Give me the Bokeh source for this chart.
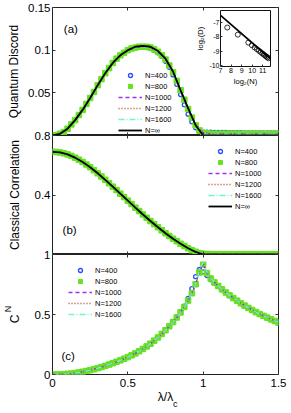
from math import pi
from bokeh.plotting import figure
from bokeh.layouts import column
from bokeh.models import Range1d, FixedTicker, LinearAxis, Label, CustomJSTickFormatter
from bokeh.embed import file_html
from bokeh.resources import INLINE

# ---------------- data ----------------
lam_fine = [0.0, 0.025, 0.05, 0.075, 0.1, 0.125, 0.15, 0.175, 0.2, 0.225,
            0.25, 0.275, 0.3, 0.325, 0.35, 0.375, 0.4, 0.425, 0.45, 0.475,
            0.5, 0.525, 0.55, 0.575, 0.6, 0.625, 0.65, 0.675, 0.7, 0.725,
            0.75, 0.775, 0.8, 0.825, 0.85, 0.875, 0.9, 0.925, 0.95, 0.975,
            1.0, 1.025, 1.05, 1.075, 1.1, 1.125, 1.15, 1.175, 1.2, 1.225,
            1.25, 1.275, 1.3, 1.325, 1.35, 1.375, 1.4, 1.425, 1.45, 1.475,
            1.5]
lam_coarse = [0.0, 0.05, 0.1, 0.15, 0.2, 0.25, 0.3, 0.35, 0.4, 0.45,
              0.5, 0.55, 0.6, 0.65, 0.7, 0.75, 0.8, 0.85, 0.9, 0.95,
              1.0, 1.05, 1.1, 1.15, 1.2, 1.25, 1.3, 1.35, 1.4, 1.45,
              1.5]

# (a) quantum discord
qd_400 = [0.000, 0.0005, 0.002, 0.004, 0.008, 0.013, 0.018, 0.024, 0.030, 0.037,
          0.044, 0.051, 0.059, 0.066, 0.073, 0.079, 0.085, 0.090, 0.094, 0.097,
          0.100, 0.102, 0.103, 0.104, 0.104, 0.103, 0.102, 0.100, 0.097, 0.093,
          0.087, 0.080, 0.071, 0.060, 0.048, 0.036, 0.025, 0.016, 0.009, 0.005,
          0.004, 0.004, 0.004, 0.0035, 0.0035, 0.0035, 0.0035, 0.0033, 0.0033, 0.0033,
          0.0033, 0.003, 0.003, 0.003, 0.003, 0.003, 0.003, 0.003, 0.003, 0.003,
          0.003]
qd_800 = [0.000, 0.0005, 0.002, 0.004, 0.008, 0.013, 0.018, 0.024, 0.030, 0.037,
          0.044, 0.051, 0.059, 0.066, 0.073, 0.079, 0.085, 0.090, 0.094, 0.097,
          0.100, 0.102, 0.103, 0.104, 0.104, 0.104, 0.103, 0.101, 0.098, 0.094,
          0.089, 0.082, 0.074, 0.064, 0.053, 0.042, 0.031, 0.021, 0.012, 0.006,
          0.003, 0.0025, 0.002, 0.002, 0.002, 0.002, 0.002, 0.002, 0.002, 0.002,
          0.002, 0.002, 0.002, 0.002, 0.002, 0.002, 0.002, 0.002, 0.002, 0.002,
          0.002]
qd_1000 = [0.000, 0.002, 0.008, 0.018, 0.030, 0.044, 0.059, 0.073, 0.085, 0.094,
           0.100, 0.103, 0.104, 0.103, 0.098, 0.089, 0.074, 0.053, 0.032, 0.013,
           0.003, 0.002, 0.002, 0.002, 0.002, 0.002, 0.002, 0.002, 0.002, 0.002,
           0.002]
qd_1200 = [0.000, 0.002, 0.008, 0.018, 0.030, 0.044, 0.059, 0.073, 0.085, 0.094,
           0.100, 0.103, 0.104, 0.103, 0.098, 0.089, 0.074, 0.053, 0.032, 0.013,
           0.0025, 0.0018, 0.0018, 0.0018, 0.0018, 0.0018, 0.0018, 0.0018, 0.0018, 0.0018,
           0.0018]
qd_1600 = [0.000, 0.002, 0.008, 0.018, 0.030, 0.044, 0.059, 0.073, 0.085, 0.094,
           0.100, 0.103, 0.104, 0.103, 0.098, 0.089, 0.074, 0.053, 0.032, 0.012,
           0.002, 0.0015, 0.0015, 0.0015, 0.0015, 0.0015, 0.0015, 0.0015, 0.0015, 0.0015,
           0.0015]
qd_inf = [0.000, 0.002, 0.008, 0.018, 0.030, 0.044, 0.059, 0.073, 0.085, 0.094,
          0.100, 0.104, 0.105, 0.104, 0.099, 0.090, 0.075, 0.053, 0.032, 0.012,
          0.000, 0.000, 0.000, 0.000, 0.000, 0.000, 0.000, 0.000, 0.000, 0.000,
          0.000]

# (b) classical correlation
cc_400 = [0.690, 0.689, 0.686, 0.680, 0.673, 0.663, 0.651, 0.637, 0.622, 0.605,
          0.587, 0.567, 0.546, 0.524, 0.502, 0.479, 0.456, 0.433, 0.409, 0.386,
          0.362, 0.339, 0.315, 0.292, 0.269, 0.247, 0.225, 0.204, 0.183, 0.163,
          0.143, 0.124, 0.106, 0.089, 0.072, 0.057, 0.044, 0.031, 0.021, 0.013,
          0.008, 0.006, 0.005, 0.0045, 0.004, 0.004, 0.0038, 0.0036, 0.0035, 0.0034,
          0.0033, 0.0032, 0.0031, 0.003, 0.003, 0.003, 0.003, 0.003, 0.003, 0.003,
          0.003]
cc_800 = [0.690, 0.689, 0.686, 0.680, 0.673, 0.663, 0.651, 0.637, 0.622, 0.605,
          0.587, 0.567, 0.546, 0.524, 0.502, 0.479, 0.456, 0.433, 0.409, 0.386,
          0.362, 0.339, 0.315, 0.292, 0.269, 0.247, 0.225, 0.204, 0.183, 0.163,
          0.143, 0.124, 0.106, 0.089, 0.072, 0.057, 0.042, 0.029, 0.018, 0.009,
          0.004, 0.003, 0.0025, 0.002, 0.002, 0.002, 0.002, 0.002, 0.002, 0.002,
          0.002, 0.002, 0.002, 0.002, 0.002, 0.002, 0.002, 0.002, 0.002, 0.002,
          0.002]
cc_1000 = [0.690, 0.686, 0.673, 0.651, 0.622, 0.587, 0.546, 0.502, 0.456, 0.409,
           0.362, 0.315, 0.269, 0.225, 0.183, 0.143, 0.106, 0.072, 0.042, 0.018,
           0.004, 0.002, 0.002, 0.002, 0.002, 0.002, 0.002, 0.002, 0.002, 0.002,
           0.002]
cc_1200 = [0.690, 0.686, 0.673, 0.651, 0.622, 0.587, 0.546, 0.502, 0.456, 0.409,
           0.362, 0.315, 0.269, 0.225, 0.183, 0.143, 0.106, 0.072, 0.042, 0.018,
           0.0035, 0.0018, 0.0018, 0.0018, 0.0018, 0.0018, 0.0018, 0.0018, 0.0018, 0.0018,
           0.0018]
cc_1600 = [0.690, 0.686, 0.673, 0.651, 0.622, 0.587, 0.546, 0.502, 0.456, 0.409,
           0.362, 0.315, 0.269, 0.225, 0.183, 0.143, 0.106, 0.072, 0.042, 0.017,
           0.003, 0.0015, 0.0015, 0.0015, 0.0015, 0.0015, 0.0015, 0.0015, 0.0015, 0.0015,
           0.0015]
cc_inf = [0.690, 0.686, 0.673, 0.651, 0.622, 0.587, 0.546, 0.502, 0.456, 0.409,
          0.362, 0.315, 0.269, 0.225, 0.183, 0.143, 0.106, 0.072, 0.042, 0.017,
          0.000, 0.000, 0.000, 0.000, 0.000, 0.000, 0.000, 0.000, 0.000, 0.000,
          0.000]

# (c) C_N
cn_400 = [0.000, 0.000, 0.001, 0.003, 0.005, 0.008, 0.012, 0.017, 0.023, 0.029,
          0.036, 0.044, 0.053, 0.062, 0.072, 0.083, 0.094, 0.106, 0.118, 0.131,
          0.145, 0.160, 0.176, 0.194, 0.213, 0.234, 0.257, 0.282, 0.310, 0.340,
          0.372, 0.406, 0.442, 0.481, 0.524, 0.570, 0.635, 0.715, 0.815, 0.875,
          0.855, 0.825, 0.790, 0.760, 0.733, 0.706, 0.681, 0.657, 0.634, 0.612,
          0.591, 0.571, 0.552, 0.534, 0.517, 0.501, 0.486, 0.471, 0.457, 0.443,
          0.430]
cn_800 = [0.000, 0.000, 0.001, 0.003, 0.005, 0.008, 0.012, 0.017, 0.023, 0.029,
          0.036, 0.044, 0.053, 0.062, 0.072, 0.083, 0.094, 0.106, 0.118, 0.131,
          0.145, 0.160, 0.176, 0.194, 0.213, 0.234, 0.257, 0.282, 0.309, 0.338,
          0.369, 0.402, 0.437, 0.475, 0.517, 0.563, 0.616, 0.677, 0.752, 0.850,
          0.915, 0.845, 0.800, 0.767, 0.738, 0.710, 0.684, 0.660, 0.637, 0.615,
          0.594, 0.574, 0.555, 0.537, 0.520, 0.504, 0.489, 0.474, 0.460, 0.446,
          0.433]
cn_1000 = [0.000, 0.000, 0.001, 0.003, 0.005, 0.008, 0.012, 0.017, 0.023, 0.029,
           0.036, 0.044, 0.053, 0.062, 0.072, 0.083, 0.094, 0.106, 0.118, 0.131,
           0.145, 0.160, 0.176, 0.194, 0.213, 0.234, 0.257, 0.282, 0.309, 0.338,
           0.369, 0.402, 0.437, 0.475, 0.517, 0.563, 0.616, 0.677, 0.752, 0.855,
           0.925, 0.848, 0.802, 0.768, 0.739, 0.711, 0.685, 0.661, 0.638, 0.616,
           0.595, 0.575, 0.556, 0.538, 0.521, 0.505, 0.490, 0.475, 0.461, 0.447,
           0.434]
cn_1200 = [0.000, 0.000, 0.001, 0.003, 0.005, 0.008, 0.012, 0.017, 0.023, 0.029,
           0.036, 0.044, 0.053, 0.062, 0.072, 0.083, 0.094, 0.106, 0.118, 0.131,
           0.145, 0.160, 0.176, 0.194, 0.213, 0.234, 0.257, 0.282, 0.309, 0.338,
           0.369, 0.402, 0.437, 0.475, 0.517, 0.563, 0.616, 0.677, 0.752, 0.860,
           0.930, 0.850, 0.802, 0.768, 0.739, 0.711, 0.685, 0.661, 0.638, 0.616,
           0.595, 0.575, 0.556, 0.538, 0.521, 0.505, 0.490, 0.475, 0.461, 0.447,
           0.434]
cn_1600 = [0.000, 0.000, 0.001, 0.003, 0.005, 0.008, 0.012, 0.017, 0.023, 0.029,
           0.036, 0.044, 0.053, 0.062, 0.072, 0.083, 0.094, 0.106, 0.118, 0.131,
           0.145, 0.160, 0.176, 0.194, 0.213, 0.234, 0.257, 0.282, 0.309, 0.338,
           0.369, 0.402, 0.437, 0.475, 0.517, 0.563, 0.616, 0.677, 0.752, 0.865,
           0.935, 0.852, 0.803, 0.768, 0.739, 0.711, 0.685, 0.661, 0.638, 0.616,
           0.595, 0.575, 0.556, 0.538, 0.521, 0.505, 0.490, 0.475, 0.461, 0.447,
           0.434]

# inset: log2(D) vs log2(N)
log2_n = [7.64, 8.64, 9.64, 9.97, 10.23, 10.45, 10.64, 10.81, 10.97, 11.10, 11.23, 11.34, 11.45, 11.55]
log2_d = [-7.34, -7.84, -8.40, -8.58, -8.74, -8.86, -8.97, -9.07, -9.16, -9.24, -9.31, -9.38, -9.44, -9.50]
fit_log2_n = [7.0, 11.8]
fit_log2_d = [-6.48, -9.58]

x_ticks = [0, 0.5, 1, 1.5]
qd_ticks = [0, 0.05, 0.1, 0.15]
cc_ticks = [0, 0.4, 0.8]
cn_ticks = [0, 0.5, 1]
inset_x_ticks = [7, 8, 9, 10, 11]
inset_y_ticks = [-10, -9, -8, -7]
labels_N = ["N=400", "N=800", "N=1000", "N=1200", "N=1600", "N=\u221e"]

# ---------------- styling ----------------
FONT = "Liberation Sans"
BLUE = "#2a4bff"
GREEN = "#66e31f"
PURPLE = "#a030f0"
BROWN = "#b5452f"
CYAN = "#6ff5d5"


def fmt(hide_zero=False):
    code = "var s = String(Math.round(tick*1000)/1000);"
    if hide_zero:
        code += "if (tick == 0) { return ''; }"
    code += "return s;"
    return CustomJSTickFormatter(code=code)


def make_fig(w, h, xr, yr, top, right, bottom, left):
    p = figure(width=w, height=h, x_range=xr, y_range=yr, output_backend="svg",
               toolbar_location=None, min_border_top=top, min_border_right=right,
               min_border_bottom=bottom, min_border_left=left)
    p.border_fill_color = None
    p.background_fill_color = "white"
    p.outline_line_color = "#222222"
    p.outline_line_width = 1
    p.xgrid.visible = False
    p.ygrid.visible = False
    return p


def style_axis(ax, ticks, show=True, size="11.5px", tick_len=3, formatter=None):
    ax.ticker = FixedTicker(ticks=ticks)
    ax.formatter = formatter if formatter is not None else fmt()
    ax.major_tick_in = tick_len
    ax.major_tick_out = 0
    ax.minor_tick_line_color = None
    ax.axis_line_color = None
    ax.major_tick_line_color = "#333333"
    ax.major_label_text_font = FONT
    ax.axis_label_text_font = FONT
    ax.axis_label_text_font_style = "normal"
    ax.axis_label_text_color = "black"
    ax.axis_label_text_font_size = "12px"
    if show:
        ax.major_label_text_color = "black"
        ax.major_label_text_font_size = size
        ax.major_label_standoff = 2
    else:
        # ticks only: labels are not painted
        ax.major_label_text_color = None
        ax.major_label_text_alpha = 0
        ax.major_label_text_font_size = "1px"
        ax.major_label_standoff = 0


def text_axis(p, place, pos, text, size, standoff, vertical=False):
    """An axis that carries only one piece of title text (used for subscripts)."""
    ax = LinearAxis(ticker=FixedTicker(ticks=[pos]),
                    formatter=CustomJSTickFormatter(code="return '%s';" % text))
    ax.major_tick_line_color = None
    ax.minor_tick_line_color = None
    ax.axis_line_color = None
    ax.major_tick_out = 0
    ax.major_tick_in = 0
    ax.major_label_text_font = FONT
    ax.major_label_text_font_size = size
    ax.major_label_text_color = "black"
    ax.major_label_standoff = standoff
    if vertical:
        ax.major_label_orientation = "vertical"
    p.add_layout(ax, place)


def mirror_axes(p, xt, yt):
    ra = LinearAxis()
    style_axis(ra, yt, show=False)
    p.add_layout(ra, "right")
    ta = LinearAxis()
    style_axis(ta, xt, show=False)
    p.add_layout(ta, "above")


def style_legend(p, loc):
    lg = p.legend[0]
    lg.location = loc
    lg.padding = 0
    lg.margin = 0
    lg.spacing = 1
    lg.glyph_width = 24
    lg.glyph_height = 10
    lg.label_height = 10
    lg.label_standoff = 3
    lg.label_text_font = FONT
    lg.label_text_font_size = "7.5px"
    lg.label_text_color = "black"
    lg.background_fill_alpha = 0
    lg.border_line_color = None


def panel_label(p, x, y, text):
    p.add_layout(Label(x=x, y=y, text=text, text_font=FONT, text_font_size="11.5px",
                       text_align="left", text_baseline="middle", text_color="black"))


def draw_series(p, xf, xc, s400, s800, s1000, s1200, s1600, sinf=None):
    p.scatter(xf, s400, marker="circle", size=4, fill_color=None, line_color=BLUE,
              line_width=1.3, legend_label=labels_N[0])
    p.scatter(xf, s800, marker="square", size=5.5, fill_color=GREEN, line_color=GREEN,
              legend_label=labels_N[1])
    p.line(xc, s1000, line_color=PURPLE, line_dash="4 3", line_width=1.3, legend_label=labels_N[2])
    p.line(xc, s1200, line_color=BROWN, line_dash="1 2", line_width=1.3, legend_label=labels_N[3])
    p.line(xc, s1600, line_color=CYAN, line_dash="6 2 1 2", line_width=1.3, legend_label=labels_N[4])
    if sinf is not None:
        p.line(xc, sinf, line_color="black", line_width=1.8, legend_label=labels_N[5])


xr = Range1d(0, 1.5)
W = 288

# ---------------- panel (a) ----------------
pa = make_fig(W, 135, xr, Range1d(0, 0.15), 7, 10, 0, 52)
style_axis(pa.yaxis[0], qd_ticks, formatter=fmt(hide_zero=True))
pa.yaxis[0].axis_label = "Quantum Discord"
pa.yaxis[0].axis_label_standoff = 4
style_axis(pa.xaxis[0], x_ticks, show=False)
mirror_axes(pa, x_ticks, qd_ticks)
draw_series(pa, lam_fine, lam_coarse, qd_400, qd_800, qd_1000, qd_1200, qd_1600, qd_inf)
style_legend(pa, (66, 0))
panel_label(pa, 0.075, 0.125, "(a)")

# ---------------- inset ----------------
pin = make_fig(112, 86, Range1d(7, 11.74), Range1d(-10.08, -6.14), 8, 3, 20, 26)
pin.margin = (-133, 0, 0, 168)
pin.outline_line_color = "#111111"
style_axis(pin.xaxis[0], inset_x_ticks, size="7px", tick_len=2)
style_axis(pin.yaxis[0], inset_y_ticks, size="7px", tick_len=2)
for ax in (pin.xaxis[0], pin.yaxis[0]):
    ax.major_label_standoff = 1
    ax.axis_label_text_font_size = "7.5px"
    ax.axis_label_standoff = 1
pin.xaxis[0].axis_label = "log\u2082(N)"
pin.yaxis[0].axis_label = "log\u2082(D)"
pin.scatter(log2_n, log2_d, marker="circle", size=5, fill_color=None, line_color="black", line_width=0.8)
pin.line(fit_log2_n, fit_log2_d, line_color="black", line_width=1.8)

# ---------------- panel (b) ----------------
pb = make_fig(W, 125, xr, Range1d(0, 0.8), 6, 10, 0, 52)
pb.margin = (41, 0, 0, 0)
style_axis(pb.yaxis[0], cc_ticks, formatter=fmt(hide_zero=True))
pb.yaxis[0].axis_label = "Classical Correlation"
pb.yaxis[0].axis_label_standoff = 10
style_axis(pb.xaxis[0], x_ticks, show=False)
mirror_axes(pb, x_ticks, cc_ticks)
draw_series(pb, lam_fine, lam_coarse, cc_400, cc_800, cc_1000, cc_1200, cc_1600, cc_inf)
style_legend(pb, (156, 43))
panel_label(pb, 0.067, 0.167, "(b)")

# ---------------- panel (c) ----------------
pc = make_fig(W, 163, xr, Range1d(0, 1.0), 6, 10, 36, 52)
pc.margin = (-6, 0, 0, 0)
style_axis(pc.yaxis[0], cn_ticks)
style_axis(pc.xaxis[0], x_ticks)
pc.xaxis[0].major_label_standoff = 4
pc.xaxis[0].axis_label = "\u03bb/\u03bb"
pc.xaxis[0].axis_label_standoff = 0
mirror_axes(pc, x_ticks, cn_ticks)
# y title "C" with its "N", x title subscript "c"
text_axis(pc, "left", 0.463, "C", "12px", 9, vertical=True)
text_axis(pc, "left", 0.545, "N", "9px", -8, vertical=True)
text_axis(pc, "below", 0.815, "c", "9px", -8)
draw_series(pc, lam_fine, lam_fine, cn_400, cn_800, cn_1000, cn_1200, cn_1600)
style_legend(pc, (16, 55))
panel_label(pc, 0.06, 0.151, "(c)")

layout = column(pa, pin, pb, pc, spacing=0)
open("out.html", "w").write(file_html(layout, INLINE))
